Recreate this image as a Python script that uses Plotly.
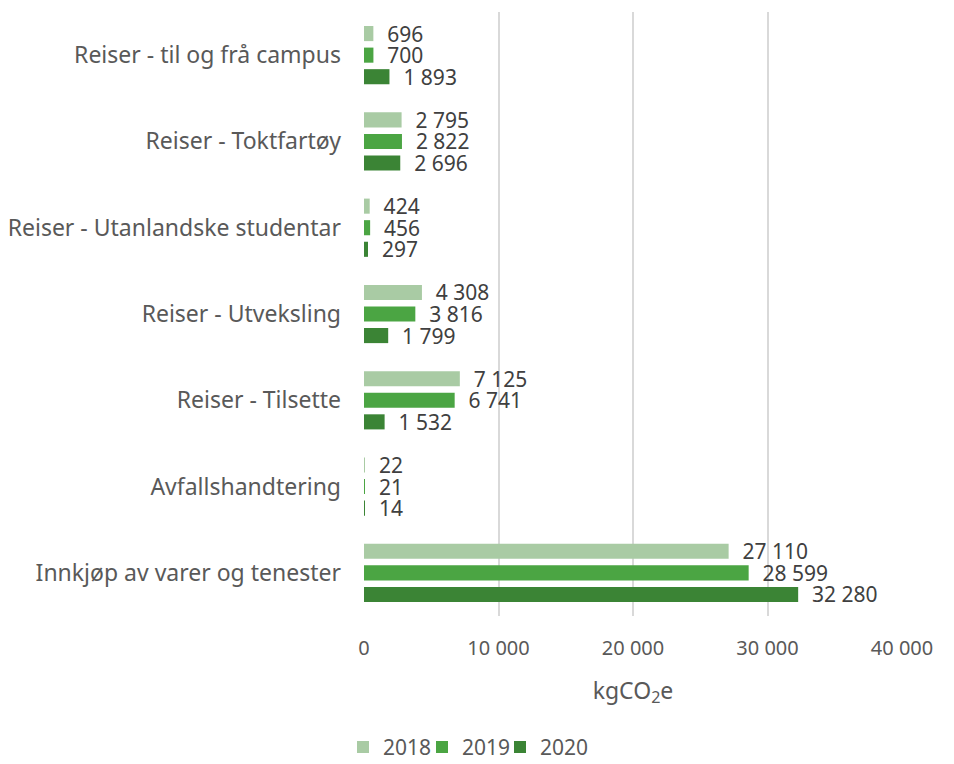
import plotly.graph_objects as go

categories = [
    "Reiser - til og frå campus",
    "Reiser - Toktfartøy",
    "Reiser - Utanlandske studentar",
    "Reiser - Utveksling",
    "Reiser - Tilsette",
    "Avfallshandtering",
    "Innkjøp av varer og tenester",
]
years = ["2018", "2019", "2020"]
values_2018 = [696, 2795, 424, 4308, 7125, 22, 27110]
values_2019 = [700, 2822, 456, 3816, 6741, 21, 28599]
values_2020 = [1893, 2696, 297, 1799, 1532, 14, 32280]
colors = ["#A9CBA4", "#4BA543", "#3B8435"]
x_ticks = [0, 10000, 20000, 30000, 40000]

FONT = "Noto Sans"
FIG_W, FIG_H = 946, 756  # page body has an 8px margin; sized to compensate

def fmt(v):
    return f"{v:,}".replace(",", " ")

legend_ids = ["legend", "legend2", "legend3"]
legend_left_px = [335, 414, 492]

fig = go.Figure()
for name, vals, col, lg in zip(years, [values_2018, values_2019, values_2020], colors, legend_ids):
    fig.add_trace(go.Bar(
        y=categories, x=vals, name=name, orientation="h", legend=lg,
        marker=dict(color=col, line=dict(width=0)),
        text=["\u00a0\u00a0" + fmt(v) for v in vals],
        textposition="outside", cliponaxis=False, constraintext="none",
        textfont=dict(size=21, color="#404040", family=FONT),
    ))

legend_common = dict(orientation="h", xref="container", yref="container",
                     xanchor="left", y=0.022, yanchor="middle",
                     font=dict(size=21, color="#595959"), itemwidth=30,
                     bgcolor="rgba(0,0,0,0)")

fig.update_layout(
    width=FIG_W, height=FIG_H,
    barmode="group", bargap=0.25, bargroupgap=0.3,
    plot_bgcolor="white", paper_bgcolor="white",
    margin=dict(l=356, r=52, t=4, b=148, autoexpand=False),
    font=dict(family=FONT, size=20, color="#595959"),
    uniformtext=dict(minsize=20, mode="show"),
    showlegend=True,
    xaxis=dict(range=[0, 40000], tickvals=x_ticks,
               ticktext=[fmt(t) for t in x_ticks],
               showgrid=True, gridcolor="#D9D9D9", gridwidth=1.5,
               zeroline=False, showline=False, ticks="", automargin=False,
               ticklabelstandoff=18,
               tickfont=dict(size=20, color="#595959"),
               title=dict(text="kgCO<sub>2</sub>e", font=dict(size=23, color="#595959"), standoff=22)),
    yaxis=dict(autorange="reversed", showgrid=False, zeroline=False, showline=False,
               ticks="", automargin=False, ticklabelstandoff=22,
               tickfont=dict(size=23, color="#595959")),
)
for lg, px in zip(legend_ids, legend_left_px):
    fig.update_layout({lg: dict(legend_common, x=px / FIG_W)})

fig.write_html("out.html")
